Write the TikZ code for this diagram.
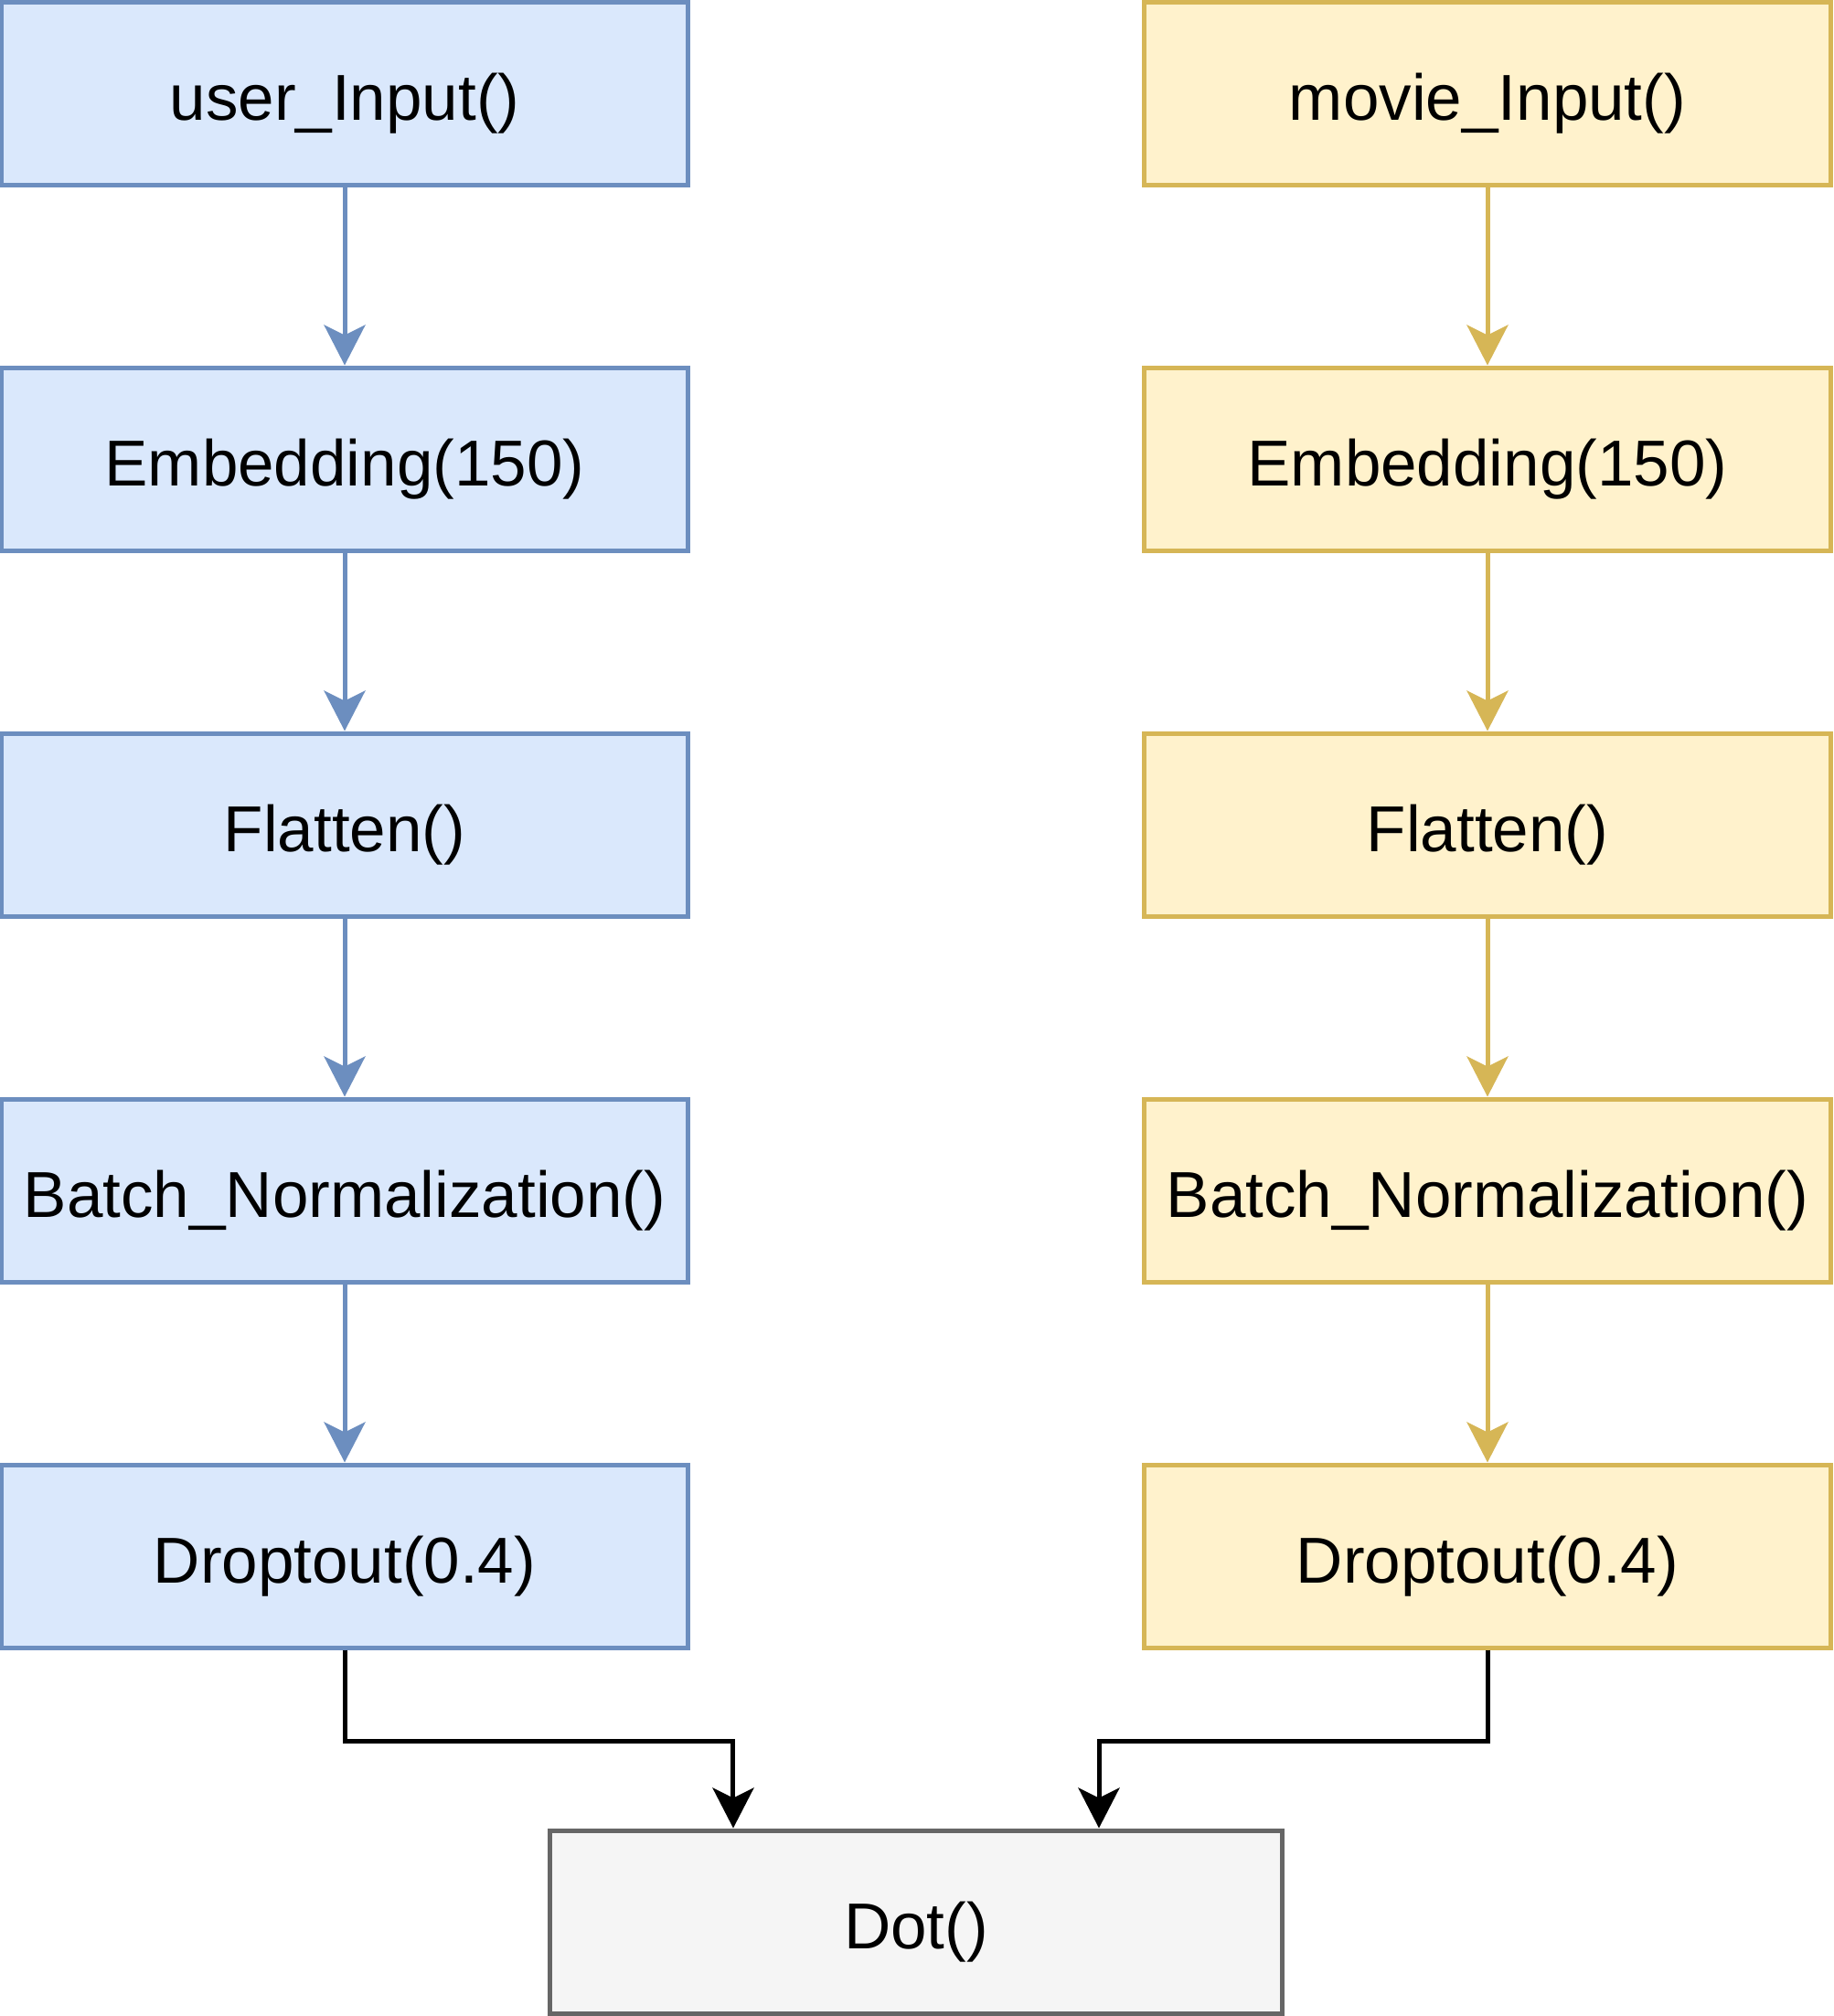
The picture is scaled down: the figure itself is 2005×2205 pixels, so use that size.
\documentclass[tikz,border=0pt]{standalone}
\usepackage{fontspec}
\setmainfont{Liberation Sans}
\usetikzlibrary{arrows.meta}
\definecolor{userfill}{HTML}{DAE8FC}
\definecolor{userline}{HTML}{6C8EBF}
\definecolor{moviefill}{HTML}{FFF2CC}
\definecolor{movieline}{HTML}{D6B656}
\definecolor{dotfill}{HTML}{F5F5F5}
\definecolor{dotline}{HTML}{666666}
\begin{document}
\begin{tikzpicture}[x=.2pt, y=-.2pt, line width=1pt,
	layer/.style={draw, minimum width=150pt, minimum height=40pt, inner sep=0pt,
		text height=14pt, text depth=2.2pt, font=\fontsize{14.2}{17}\selectfont},
	userbox/.style={layer, draw=userline, fill=userfill},
	moviebox/.style={layer, draw=movieline, fill=moviefill},
	dotbox/.style={layer, minimum width=160pt, draw=dotline, fill=dotfill},
	flow/.style={-{Stealth[length=8.8pt, width=9pt, inset=2.2pt]}}]
	\useasboundingbox (0,0) rectangle (2005,2205);
	% user side
	\node[userbox]  (user1) at (377,102)  {user\_Input()};
	\node[userbox]  (user2) at (377,502)  {Embedding(150)};
	\node[userbox]  (user3) at (377,902)  {Flatten()};
	\node[userbox]  (user4) at (377,1302) {Batch\_Normalization()};
	\node[userbox]  (user5) at (377,1702) {Droptout(0.4)};
	% movie side
	\node[moviebox] (movie1) at (1627,102)  {movie\_Input()};
	\node[moviebox] (movie2) at (1627,502)  {Embedding(150)};
	\node[moviebox] (movie3) at (1627,902)  {Flatten()};
	\node[moviebox] (movie4) at (1627,1302) {Batch\_Normalization()};
	\node[moviebox] (movie5) at (1627,1702) {Droptout(0.4)};
	% merge
	\node[dotbox]   (dot) at (1002,2102) {Dot()};
	\coordinate (dotL) at ([xshift=-40pt]dot.north);
	\coordinate (dotR) at ([xshift=40pt]dot.north);
	\draw[flow, userline]  (user1) -- (user2);
	\draw[flow, userline]  (user2) -- (user3);
	\draw[flow, userline]  (user3) -- (user4);
	\draw[flow, userline]  (user4) -- (user5);
	\draw[flow, movieline] (movie1) -- (movie2);
	\draw[flow, movieline] (movie2) -- (movie3);
	\draw[flow, movieline] (movie3) -- (movie4);
	\draw[flow, movieline] (movie4) -- (movie5);
	\draw[flow] (user5.south)  -- ++(0,100) -| (dotL);
	\draw[flow] (movie5.south) -- ++(0,100) -| (dotR);
\end{tikzpicture}
\end{document}
